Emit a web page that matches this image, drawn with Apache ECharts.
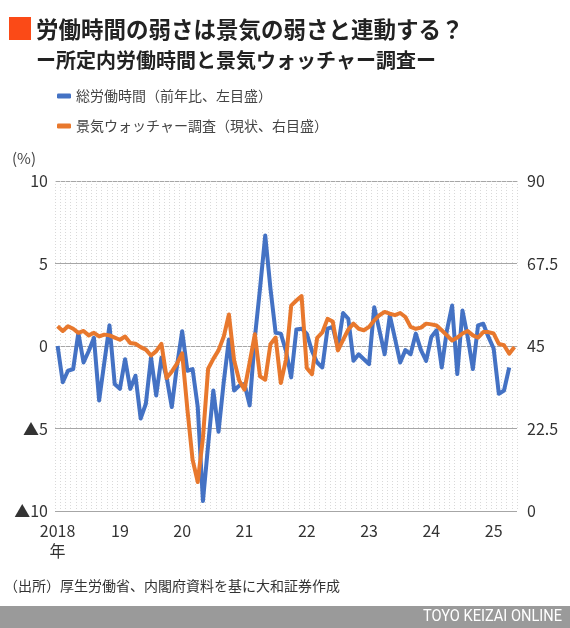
<!DOCTYPE html>
<html>
<head>
<meta charset="utf-8">
<script src="https://cdn.jsdelivr.net/npm/echarts@6/dist/echarts.min.js"></script>
<style>
  html, body { margin: 0; padding: 0; background: #fff; }
  #chart { width: 570px; height: 628px; }
</style>
</head>
<body>
<div id="chart"></div>
<script>
// 月次データ 2018年1月〜2025年5月
var startYear = 2018;
var monthCount = 89;

// 総労働時間（前年比、%）左目盛 2018/1〜2025/4
var hoursYoY = [
  0.0, -2.2, -1.5, -1.4, 0.8, -1.0, -0.3, 0.5, -3.3, -1.0, 1.25, -2.3,
  -2.6, -0.8, -2.6, -1.8, -4.4, -3.5, -0.7, -3.0, -0.7, -1.9, -3.7, -1.2,
  0.9, -1.5, -1.4, -3.7, -9.4, -6.0, -2.7, -5.2, -2.2, 0.4, -2.7, -2.4,
  -2.3, -3.6, 0.5, 3.5, 6.7, 3.5, 0.8, 0.75, -0.3, -1.9, 1.0, 1.05,
  0.75, -0.3, -1.0, -1.3, 1.05, 1.15, -0.1, 2.0, 1.65, -0.9, -0.5, -0.8,
  -1.1, 2.35, 0.95, -0.5, 1.85, 0.45, -1.0, -0.25, -0.5, 0.75, -0.25, -0.9,
  0.55, 0.95, -1.3, 0.95, 2.45, -1.7, 2.15, 0.55, -1.4, 1.25, 1.35, 0.55,
  -0.15, -2.9, -2.7, -1.3
];

// 景気ウォッチャー調査（現状DI）右目盛 2018/1〜2025/5
var watcherDI = [
  50.4, 49.1, 50.4, 49.7, 48.6, 49.1, 47.9, 48.6, 47.6, 48.1, 47.9, 47.3,
  46.7, 47.6, 45.8, 45.6, 44.7, 44.0, 42.4, 43.6, 45.6, 36.3, 38.0, 40.2,
  43.0, 27.8, 14.0, 7.9, 20.0, 38.8, 41.5, 43.8, 47.5, 53.6, 41.1, 35.5,
  33.1, 40.5, 48.2, 36.7, 35.8, 45.5, 47.3, 34.9, 41.3, 56.0, 57.4, 58.6,
  39.0, 37.3, 47.2, 48.7, 52.4, 51.7, 43.8, 46.7, 49.5, 51.1, 49.7, 49.3,
  50.2, 52.0, 53.4, 54.3, 53.8, 53.4, 54.0, 52.9, 50.2, 49.7, 50.0, 51.1,
  50.9, 50.6, 49.3, 47.9, 46.5, 47.3, 48.4, 49.1, 47.9, 47.3, 48.8, 48.8,
  48.4, 45.6, 45.2, 42.9, 44.7
];

var leftTicks = { min: -10, max: 10, interval: 5 };
var rightTicks = { min: 0, max: 90, interval: 22.5 };

var months = [];
for (var i = 0; i < monthCount; i++) {
  var y = startYear + Math.floor(i / 12);
  var m = (i % 12) + 1;
  months.push(y + "/" + m);
}

var jpFont = '"Noto Sans CJK JP", "Noto Sans", sans-serif';
var blue = "#4472c4";
var orange = "#e8782d";

var myChart = echarts.init(document.getElementById("chart"));

var option = {
  backgroundColor: "#fff",
  animation: false,
  textStyle: { fontFamily: jpFont },
  legend: {
    orient: "vertical",
    left: 57,
    top: 89,
    padding: 0,
    itemGap: 16,
    itemWidth: 14,
    itemHeight: 5,
    icon: "roundRect",
    textStyle: { fontSize: 14, color: "#444", fontFamily: jpFont },
    data: ["総労働時間（前年比、左目盛）", "景気ウォッチャー調査（現状、右目盛）"]
  },
  grid: { left: 55, right: 53, top: 181, height: 330 },
  xAxis: {
    type: "category",
    data: months,
    boundaryGap: true,
    axisLine: { show: false },
    axisTick: { show: false },
    axisLabel: {
      interval: function (idx, val) {
        return idx % 12 === 0;
      },
      formatter: function (val, idx) {
        var yr = val.split("/")[0];
        if (yr == String(startYear)) return yr + "\n年";
        return yr.slice(2);
      },
      fontSize: 16,
      lineHeight: 20,
      color: "#333",
      margin: 10,
      fontFamily: jpFont
    },
    splitLine: {
      show: true,
      interval: 0,
      lineStyle: { color: "#d9d9d9", type: [1, 2], width: 1 }
    }
  },
  yAxis: [
    {
      type: "value",
      min: leftTicks.min,
      max: leftTicks.max,
      interval: leftTicks.interval,
      axisLine: { show: false },
      axisTick: { show: false },
      axisLabel: {
        fontSize: 16,
        color: "#333",
        margin: 7,
        fontFamily: jpFont,
        formatter: function (v) {
          return v < 0 ? "▲" + (-v) : String(v);
        }
      },
      splitLine: { lineStyle: { color: "#a6a6a6", width: 1.2 } }
    },
    {
      type: "value",
      min: rightTicks.min,
      max: rightTicks.max,
      interval: rightTicks.interval,
      axisLine: { show: false },
      axisTick: { show: false },
      splitLine: { show: false },
      axisLabel: { fontSize: 16, color: "#333", margin: 10, fontFamily: jpFont }
    }
  ],
  series: [
    {
      name: "総労働時間（前年比、左目盛）",
      type: "line",
      yAxisIndex: 0,
      data: hoursYoY,
      symbol: "none",
      lineStyle: { color: blue, width: 4, join: "round" },
      itemStyle: { color: blue }
    },
    {
      name: "景気ウォッチャー調査（現状、右目盛）",
      type: "line",
      yAxisIndex: 1,
      data: watcherDI,
      symbol: "none",
      lineStyle: { color: orange, width: 4, join: "round" },
      itemStyle: { color: orange }
    }
  ],
  graphic: [
    { type: "rect", shape: { x: 9, y: 17, width: 22, height: 23 }, style: { fill: "#fb4a17" } },
    {
      type: "text", x: 36, y: 29,
      style: {
        text: "労働時間の弱さは景気の弱さと連動する？",
        font: "bold 22.5px " + jpFont, fill: "#222", verticalAlign: "middle"
      }
    },
    {
      type: "text", x: 36, y: 60,
      style: {
        text: "ー所定内労働時間と景気ウォッチャー調査ー",
        font: "bold 20px " + jpFont, fill: "#222", verticalAlign: "middle"
      }
    },
    {
      type: "text", x: 12, y: 158,
      style: { text: "(%)", font: "15px " + jpFont, fill: "#444", verticalAlign: "middle" }
    },
    {
      type: "text", x: 4, y: 586,
      style: {
        text: "（出所）厚生労働省、内閣府資料を基に大和証券作成",
        font: "14px " + jpFont, fill: "#333", verticalAlign: "middle"
      }
    },
    { type: "rect", shape: { x: 0, y: 606, width: 570, height: 22 }, style: { fill: "#9a9a9a" } },
    {
      type: "text", x: 562, y: 617, scaleX: 0.86,
      style: {
        text: "TOYO KEIZAI ONLINE",
        font: "17px Roboto, sans-serif", fill: "#fff",
        align: "right", verticalAlign: "middle"
      }
    }
  ]
};

myChart.setOption(option);
</script>
</body>
</html>
